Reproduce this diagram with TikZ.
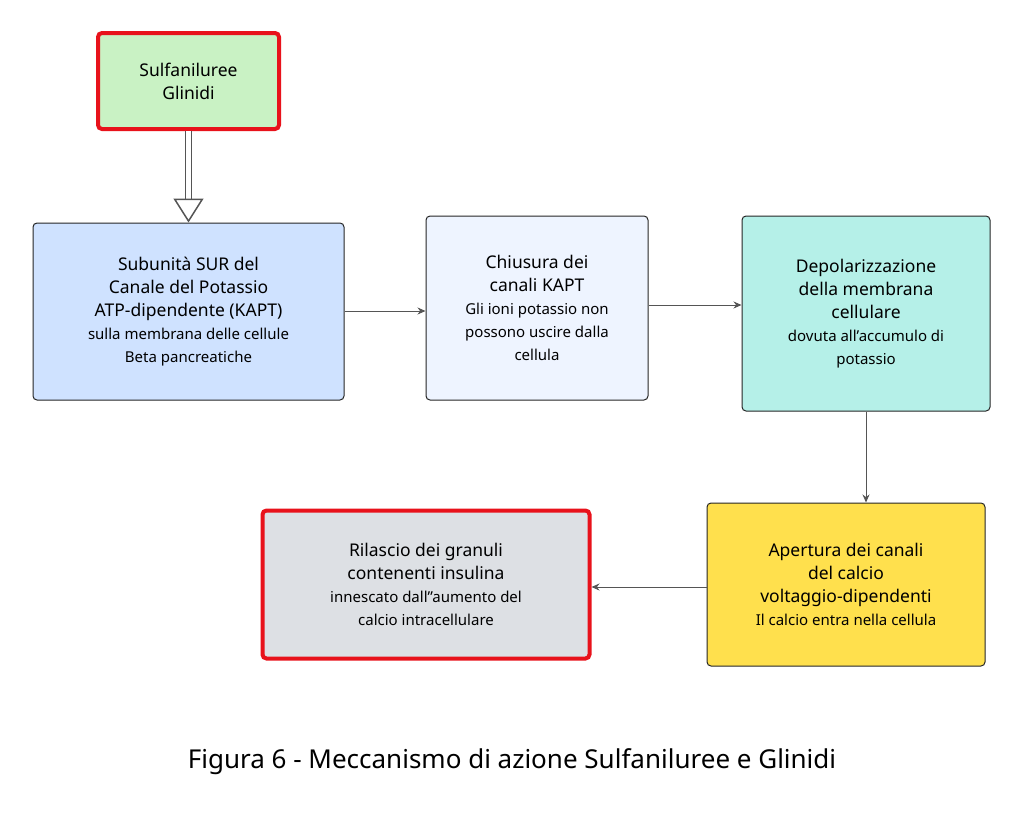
\documentclass[tikz,border=0pt]{standalone}
\usepackage{fontspec}
\setmainfont{Noto Sans}
\usetikzlibrary{arrows.meta}
\definecolor{cgreen}{HTML}{C9F2C4}
\definecolor{cblue}{HTML}{CFE2FF}
\definecolor{clight}{HTML}{EEF4FF}
\definecolor{cteal}{HTML}{B5F0E8}
\definecolor{cyel}{HTML}{FFE04D}
\definecolor{cgray}{HTML}{DDE0E4}
\definecolor{cred}{HTML}{E8121B}
\definecolor{cline}{HTML}{555555}
\tikzset{
 box/.style={draw=black!85,line width=1pt,rounded corners=4pt,align=center,inner sep=2pt,font=\fontsize{15}{23}\selectfont},
 redbox/.style={box,draw=cred,line width=4pt},
 t/.style={font=\fontsize{17.5}{26}\selectfont\bfseries},
 conn/.style={draw=cline,line width=1pt,-{Stealth[length=8pt,width=7pt]}}
}
\newcommand{\hd}[1]{{\fontsize{17.5}{26}\selectfont\bfseries #1}}
\begin{document}
\begin{tikzpicture}[x=1pt,y=-1pt]
\useasboundingbox (0,0) rectangle (1024,819);
\node[redbox,fill=cgreen,minimum width=181pt,minimum height=96pt] (s) at (188.5,81) {\hd{Sulfaniluree}\\\hd{Glinidi}};
\node[box,fill=cblue,minimum width=311pt,minimum height=177pt] (a) at (188.5,311.5) {\hd{Subunità SUR del}\\\hd{Canale del Potassio}\\\hd{ATP-dipendente (KAPT)}\\sulla membrana delle \textbf{cellule}\\\textbf{Beta pancreatiche}};
\node[box,fill=clight,minimum width=222pt,minimum height=184pt] (b) at (537,308) {\hd{Chiusura dei}\\\hd{canali KAPT}\\Gli ioni potassio non\\possono uscire dalla\\cellula};
\node[box,fill=cteal,minimum width=248pt,minimum height=195pt] (c) at (866,313.5) {\hd{Depolarizzazione}\\\hd{della membrana}\\\hd{cellulare}\\dovuta all'accumulo di\\potassio};
\node[box,fill=cyel,minimum width=278pt,minimum height=163pt] (d) at (846,584.5) {\hd{Apertura dei canali}\\\hd{del calcio}\\\hd{voltaggio-dipendenti}\\Il calcio entra nella cellula};
\node[redbox,fill=cgray,minimum width=327pt,minimum height=148pt] (e) at (426,584.5) {\hd{Rilascio dei granuli}\\\hd{contenenti insulina}\\innescato dall''aumento del\\calcio intracellulare};
\node (cap) at (512,762) {\fontsize{26}{30}\selectfont\bfseries Figura 6 - Meccanismo di azione Sulfaniluree e Glinidi};
\draw[draw=cline,line width=1.2pt,double=white,double distance=5pt,-{Triangle[open,length=24pt,width=30pt,line width=1.5pt]}] (s.south) -- (a.north);
\draw[conn] (a.east |- 0,311) -- (b.west |- 0,311);
\draw[conn] (b.east |- 0,305) -- (c.west |- 0,305);
\draw[conn] (c.south) -- (c.south |- d.north);
\draw[conn] (d.west |- 0,587) -- (e.east |- 0,587);
\end{tikzpicture}
\end{document}
